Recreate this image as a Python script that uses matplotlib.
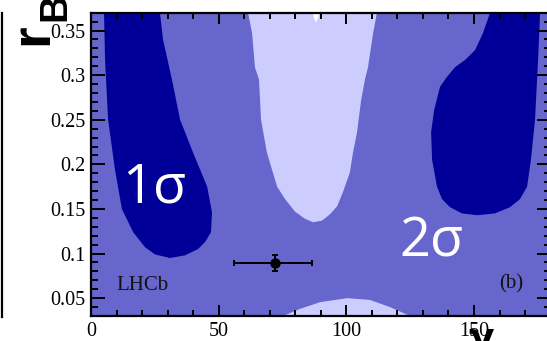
import matplotlib
matplotlib.use("Agg")
import matplotlib.pyplot as plt
from matplotlib.patches import Polygon
from matplotlib.lines import Line2D
from matplotlib.ticker import MultipleLocator

# Confidence-region boundaries in the (gamma [deg], r_B) plane
left_1s_gamma = [5.1, 26.6, 28.2, 31.7, 34.9, 40.0, 45.5, 47.4, 47.0, 44.7, 41.9, 36.8,
                 30.9, 25.1, 21.2, 16.5, 12.1, 9.4, 6.7, 5.5, 5.1]
left_1s_rb = [0.380, 0.380, 0.340, 0.295, 0.250, 0.213, 0.175, 0.146, 0.124, 0.113, 0.105,
              0.098, 0.095, 0.099, 0.107, 0.124, 0.150, 0.194, 0.250, 0.317, 0.370]

right_1s_gamma = [156.3, 153.5, 150.4, 146.5, 142.6, 139.4, 136.7, 134.4, 133.2, 133.6,
                  135.5, 137.5, 140.6, 145.3, 151.2, 158.2, 164.1, 168.0, 170.8, 172.3,
                  173.9, 175.1, 175.9, 175.9]
right_1s_rb = [0.370, 0.347, 0.328, 0.317, 0.309, 0.298, 0.287, 0.261, 0.236, 0.205,
               0.175, 0.161, 0.152, 0.145, 0.143, 0.145, 0.152, 0.161, 0.175, 0.205,
               0.250, 0.317, 0.370, 0.380]

top_out_gamma = [61.5, 61.5, 63.1, 64.2, 65.8, 66.6, 68.9, 72.9, 76.0, 79.9, 83.8, 87.0,
                 90.5, 93.6, 96.4, 98.7, 101.4, 102.6, 104.2, 105.8, 107.3, 108.5,
                 110.5, 112.0, 112.0]
top_out_rb = [0.380, 0.370, 0.347, 0.309, 0.295, 0.250, 0.213, 0.175, 0.161, 0.147,
              0.139, 0.135, 0.137, 0.144, 0.153, 0.169, 0.191, 0.213, 0.236, 0.272,
              0.295, 0.309, 0.347, 0.370, 0.380]

bottom_out_gamma = [76.0, 76.0, 81.9, 89.7, 100.3, 109.3, 117.1, 124.2, 124.2]
bottom_out_rb = [0.020, 0.031, 0.038, 0.0455, 0.050, 0.048, 0.040, 0.031, 0.020]

top_3s_gamma = [86.6, 87.3, 88.1, 88.9, 89.7]
top_3s_rb = [0.375, 0.364, 0.359, 0.364, 0.375]

# Best-fit point
gamma_best = 72.1
gamma_err_lo = 16.1
gamma_err_hi = 14.5
rb_best = 0.089
rb_err = 0.009

x_ticks = [0, 50, 100, 150]
y_ticks = [0.05, 0.1, 0.15, 0.2, 0.25, 0.3, 0.35]
x_tick_labels = ["0", "50", "100", "150"]
y_tick_labels = ["0.05", "0.1", "0.15", "0.2", "0.25", "0.3", "0.35"]

c_dark = "#000099"
c_mid = "#6666cc"
c_light = "#ccccff"

fig = plt.figure(figsize=(5.47, 3.41), dpi=100)
ax = fig.add_axes([0.16636, 0.07331, 0.8402, 0.88944])
ax.set_xlim(0, 180)
ax.set_ylim(0.03, 0.37)
ax.set_facecolor(c_mid)

for gx, ry, col in [(left_1s_gamma, left_1s_rb, c_dark),
                    (right_1s_gamma, right_1s_rb, c_dark),
                    (top_out_gamma, top_out_rb, c_light),
                    (bottom_out_gamma, bottom_out_rb, c_light),
                    (top_3s_gamma, top_3s_rb, "white")]:
    ax.add_patch(Polygon(list(zip(gx, ry)), closed=True, facecolor=col,
                         edgecolor="none", zorder=1))

ax.errorbar([gamma_best], [rb_best],
            xerr=[[gamma_err_lo], [gamma_err_hi]], yerr=[[rb_err], [rb_err]],
            fmt="o", color="black", ms=6.5, elinewidth=1.4, capsize=2.5,
            capthick=1.4, zorder=5)

serif = "Liberation Serif"
ax.text(12.3, 0.157, "1σ", color="white", fontsize=39, family="Open Sans",
        ha="left", va="baseline", zorder=6)
ax.text(120.6, 0.097, "2σ", color="white", fontsize=39, family="Open Sans",
        ha="left", va="baseline", zorder=6)
ax.text(9.8, 0.0595, "LHCb", color="#111111", fontsize=15, family=serif,
        ha="left", va="baseline", zorder=6)
ax.text(169.3, 0.0605, "(b)", color="#111111", fontsize=15, family=serif,
        ha="right", va="baseline", zorder=6)

ax.set_xticks(x_ticks)
ax.set_xticklabels(x_tick_labels)
ax.set_yticks(y_ticks)
ax.set_yticklabels(y_tick_labels)
ax.xaxis.set_minor_locator(MultipleLocator(10))
ax.yaxis.set_minor_locator(MultipleLocator(0.01))
ax.tick_params(axis="both", labelfontfamily=serif, labelsize=14.5)
ax.tick_params(axis="x", which="major", direction="in", length=7.7, width=1.4,
               top=True, bottom=True, pad=4.0, colors="black")
ax.tick_params(axis="x", which="minor", direction="in", length=4.3, width=1.4,
               top=True, bottom=True)
ax.tick_params(axis="y", which="major", direction="in", length=10, width=1.4,
               left=True, right=True, pad=4.3)
ax.tick_params(axis="y", which="minor", direction="in", length=5, width=1.4,
               left=True, right=True)
for sp in ax.spines.values():
    sp.set_linewidth(1.6)
    sp.set_zorder(10)

# Axis titles (partly outside the canvas)
fig.text(47 / 547, 1 - 45 / 341, "r", rotation=90, rotation_mode="anchor",
         fontsize=40, fontweight="bold", family="Liberation Sans",
         ha="left", va="baseline", color="black")
fig.text(65 / 547, 1 - 21 / 341, "B", rotation=90, rotation_mode="anchor",
         fontsize=28, fontweight="bold", family="Liberation Sans",
         ha="left", va="baseline", color="black")
fig.text(481 / 547, 1 - 349 / 341, "γ", rotation_mode="anchor",
         fontsize=27, fontweight="bold", family="DejaVu Sans",
         ha="center", va="baseline", color="black")

# Frame of the neighbouring panel
fig.add_artist(Line2D([1.5 / 547, 1.5 / 547], [1 - 317 / 341, 1 - 13 / 341],
                      color="black", lw=1.6, transform=fig.transFigure))

fig.savefig("out.png", dpi=100)
